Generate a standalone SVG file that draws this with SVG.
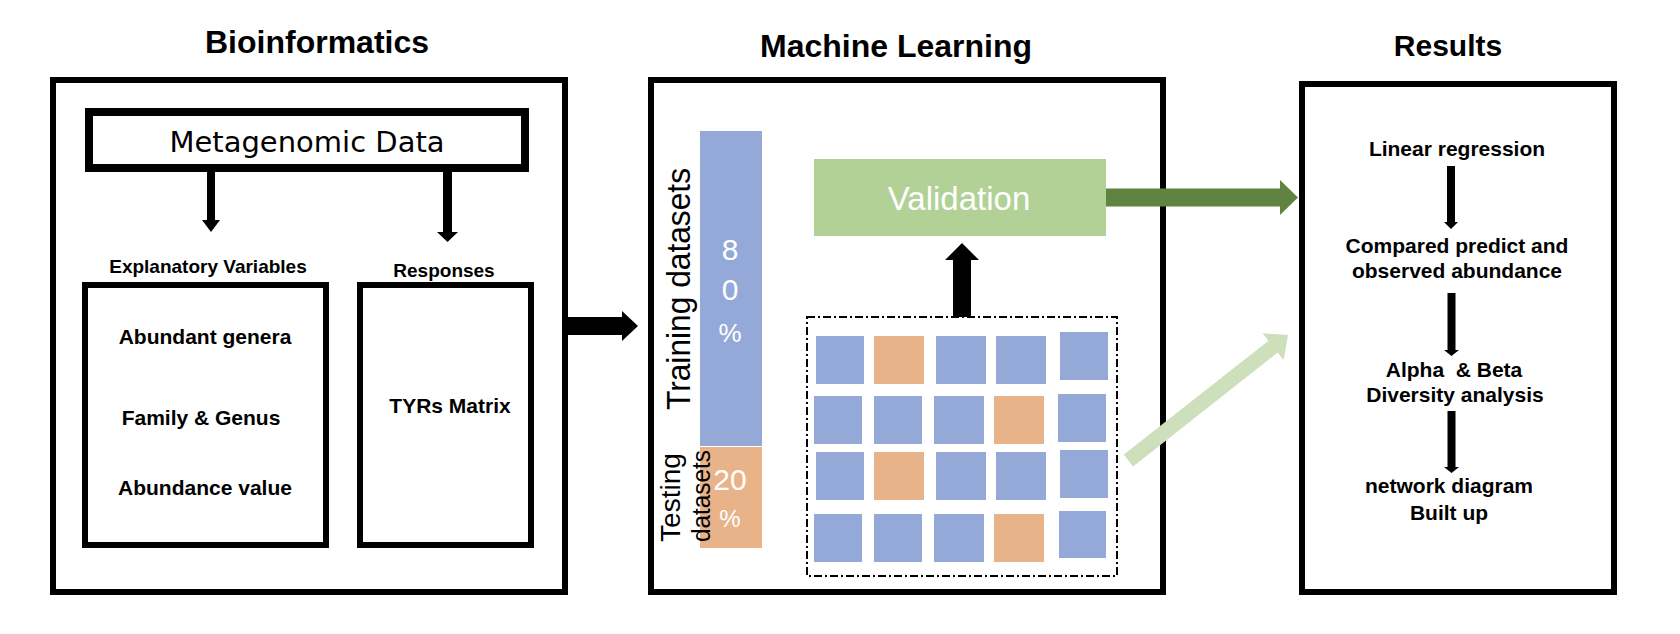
<svg xmlns="http://www.w3.org/2000/svg" width="1680" height="634" viewBox="0 0 1680 634">
<style>
.box{fill:none;stroke:#000;stroke-width:6}
.title{font-family:"Liberation Sans",Arial,sans-serif;font-weight:bold;fill:#000;text-anchor:middle}
.lbl{font-family:"Liberation Sans",Arial,sans-serif;font-weight:bold;font-size:21px;fill:#000;text-anchor:middle}
.reg{font-family:"Liberation Sans",Arial,sans-serif;fill:#000}
.wt{font-family:"Liberation Sans",Arial,sans-serif;fill:#fff;text-anchor:middle}
.blue{fill:#95a9d8}
.orange{fill:#e9b38a}
.blk{fill:#000}
</style>
<rect width="1680" height="634" fill="#fff"/>

<g id="bioinformatics">
  <text class="title" x="317" y="53" font-size="32">Bioinformatics</text>
  <rect class="box" x="53" y="80" width="512" height="512"/>
</g>
<g id="metagenomic-data">
  <rect x="89" y="112" width="436" height="56" fill="none" stroke="#000" stroke-width="8"/>
  <text x="307" y="152" font-family="DejaVu Sans, sans-serif" font-size="29" text-anchor="middle" fill="#000">Metagenomic Data</text>
</g>
<g id="explanatory-variables">
  <text class="lbl" x="208" y="273" font-size="19" style="font-size:19px">Explanatory Variables</text>
  <rect class="box" x="85" y="285" width="241" height="260"/>
  <text class="lbl" x="205" y="344">Abundant genera</text>
  <text class="lbl" x="201" y="425">Family &amp; Genus</text>
  <text class="lbl" x="205" y="495">Abundance value</text>
</g>
<g id="responses">
  <text class="lbl" x="444" y="277" style="font-size:19px">Responses</text>
  <rect class="box" x="360" y="285" width="171" height="260"/>
  <text class="lbl" x="450" y="413">TYRs Matrix</text>
</g>

<g id="machine-learning">
  <text class="title" x="896" y="57" font-size="32">Machine Learning</text>
  <rect class="box" x="651" y="80" width="512" height="512"/>
</g>
<g id="training-datasets">
  <rect class="blue" x="700" y="131" width="62" height="315"/>
  <text class="reg" transform="translate(690,410) rotate(-90)" font-size="33" textLength="242" lengthAdjust="spacingAndGlyphs">Training datasets</text>
  <text class="wt" x="730" y="260" font-size="30">8</text>
  <text class="wt" x="730" y="300" font-size="30">0</text>
  <text class="wt" x="730" y="342" font-size="26">%</text>
</g>
<g id="testing-datasets">
  <rect class="orange" x="700" y="447" width="62" height="101"/>
  <text class="reg" transform="translate(680,542) rotate(-90)" font-size="27" textLength="89" lengthAdjust="spacingAndGlyphs">Testing</text>
  <text class="reg" transform="translate(710,542) rotate(-90)" font-size="25" textLength="92" lengthAdjust="spacingAndGlyphs">datasets</text>
  <text class="wt" x="730" y="490" font-size="30">20</text>
  <text class="wt" x="730" y="527" font-size="24">%</text>
</g>
<g id="validation">
  <rect x="814" y="159" width="292" height="77" fill="#b1d196"/>
  <text x="959" y="210" font-family="Liberation Sans, Arial, sans-serif" font-size="33" fill="#fff" text-anchor="middle">Validation</text>
</g>
<g id="data-matrix">
  <rect x="807" y="317" width="310" height="259" fill="none" stroke="#000" stroke-width="2" stroke-dasharray="8 3 2 3"/>
  <rect class="blue" x="816" y="336" width="48" height="48"/>
  <rect class="orange" x="874" y="336" width="50" height="48"/>
  <rect class="blue" x="936" y="336" width="50" height="48"/>
  <rect class="blue" x="996" y="336" width="50" height="48"/>
  <rect class="blue" x="1060" y="332" width="48" height="48"/>

  <rect class="blue" x="814" y="396" width="48" height="48"/>
  <rect class="blue" x="874" y="396" width="48" height="48"/>
  <rect class="blue" x="934" y="396" width="50" height="48"/>
  <rect class="orange" x="994" y="396" width="50" height="48"/>
  <rect class="blue" x="1058" y="394" width="48" height="48"/>

  <rect class="blue" x="816" y="452" width="48" height="48"/>
  <rect class="orange" x="874" y="452" width="50" height="48"/>
  <rect class="blue" x="936" y="452" width="50" height="48"/>
  <rect class="blue" x="996" y="452" width="50" height="48"/>
  <rect class="blue" x="1060" y="450" width="48" height="48"/>

  <rect class="blue" x="814" y="514" width="48" height="48"/>
  <rect class="blue" x="874" y="514" width="48" height="48"/>
  <rect class="blue" x="934" y="514" width="50" height="48"/>
  <rect class="orange" x="994" y="514" width="50" height="48"/>
  <rect class="blue" x="1059" y="511" width="47" height="47"/>
</g>

<g id="results">
  <text class="title" x="1448" y="56" font-size="30">Results</text>
  <rect class="box" x="1302" y="84" width="312" height="508"/>
  <text class="lbl" x="1457" y="156">Linear regression</text>
  <text class="lbl" x="1457" y="253">Compared predict and</text>
  <text class="lbl" x="1457" y="278">observed abundance</text>
  <text class="lbl" x="1454" y="377" xml:space="preserve">Alpha  &amp; Beta</text>
  <text class="lbl" x="1455" y="402">Diversity analysis</text>
  <text class="lbl" x="1449" y="493">network diagram</text>
  <text class="lbl" x="1449" y="520">Built up</text>
</g>

<g id="connectors">
  <!-- Metagenomic Data to Explanatory / Responses -->
  <polygon class="blk" points="207,172 215,172 215,220 220,220 211,232 202,220 207,220"/>
  <polygon class="blk" points="443,172 452,172 452,232 458,232 447.5,242 437,232 443,232"/>
  <!-- Bioinformatics to Machine Learning -->
  <polygon class="blk" points="566,317 622,317 622,311 638,326 622,341 622,335 566,335"/>
  <!-- matrix up to Validation -->
  <polygon class="blk" points="953,317 953,260 945,260 962,243 979,260 971,260 971,317"/>
  <!-- Validation to Results -->
  <polygon fill="#608341" points="1106,188.5 1280,188.5 1280,180 1298,197.5 1280,215 1280,206.5 1106,206.5"/>
  <!-- matrix to Results (light) -->
  <polygon fill="#cde0bb" transform="translate(1128.5,460.5) rotate(-38.2)" points="0,-7.5 184,-7.5 184,-17 203,0 184,17 184,7.5 0,7.5"/>
  <!-- Results flow -->
  <polygon class="blk" points="1447,166 1455,166 1455,222 1458,222 1451,229 1444,222 1447,222"/>
  <polygon class="blk" points="1447.5,293 1455.5,293 1455.5,350 1459,350 1451.5,356 1444,350 1447.5,350"/>
  <polygon class="blk" points="1447.5,411 1455.5,411 1455.5,467 1459,467 1451.5,473 1444,467 1447.5,467"/>
</g>
</svg>
